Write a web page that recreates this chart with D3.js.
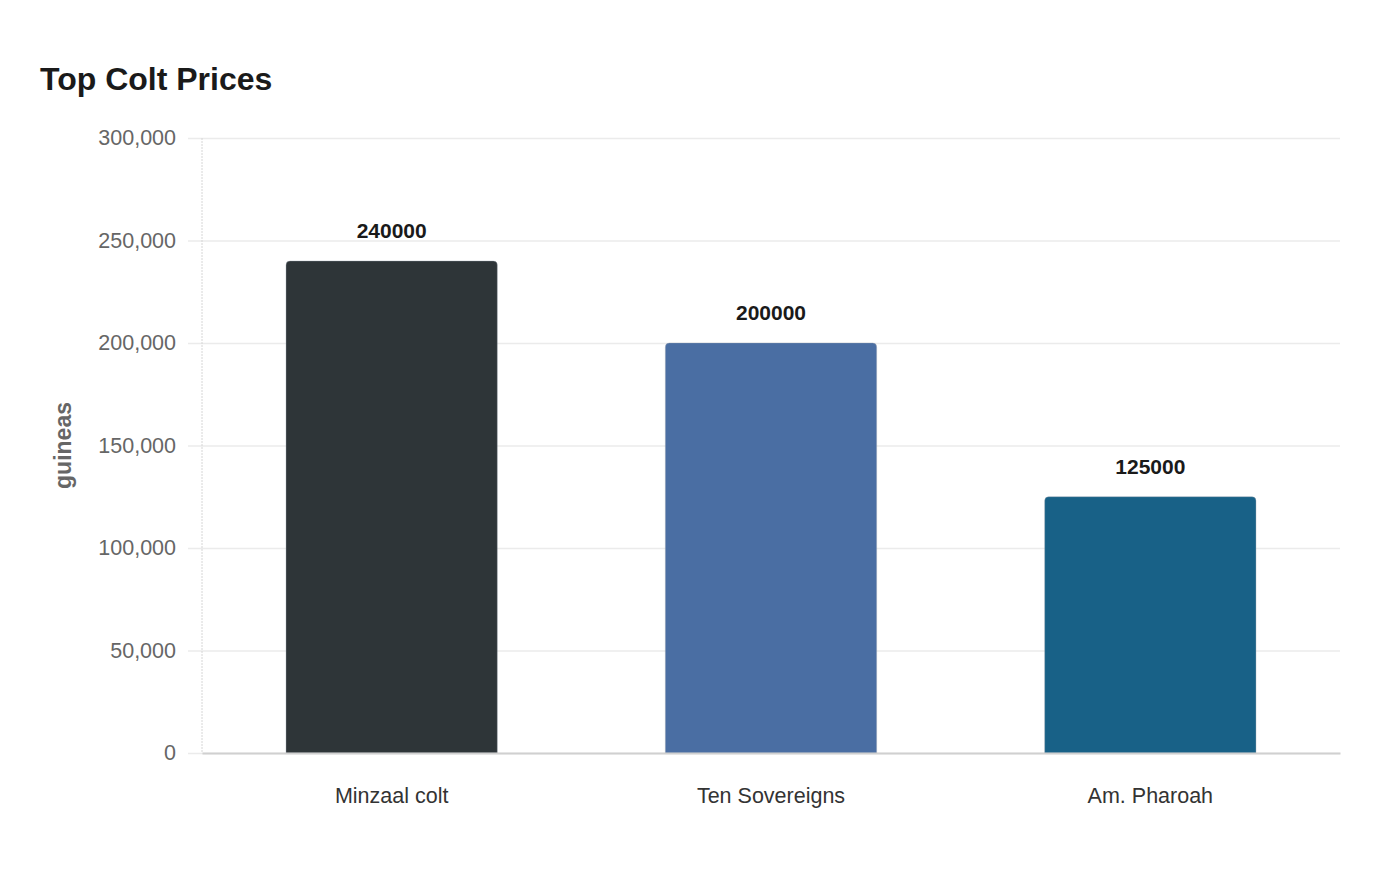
<!DOCTYPE html>
<html>
<head>
<meta charset="utf-8">
<script src="https://cdn.jsdelivr.net/npm/d3@7"></script>
<style>
  body { margin: 0; background: #fff; }
  svg { font-family: "Liberation Sans", Arial, sans-serif; }
</style>
</head>
<body>
<svg id="chart" width="1400" height="880"></svg>
<script>
/* chart data */
const horses = ['Minzaal colt', 'Ten Sovereigns', 'Am. Pharoah'];
const prices = [240000, 200000, 125000];
const barColors = ['#2e3538', '#4a6ea3', '#186187'];
const yTicks = [0, 50000, 100000, 150000, 200000, 250000, 300000];

const width = 1400, height = 880;
const margin = { left: 202, right: 60, top: 138, bottom: 127 };

const svg = d3.select('#chart');

/* scales */
const x = d3.scaleBand()
    .domain(horses)
    .range([margin.left, width - margin.right])
    .paddingInner(0.443)
    .paddingOuter(0.2215);
const y = d3.scaleLinear()
    .domain([0, 300000])
    .range([height - margin.bottom, margin.top]);

/* title */
svg.append('text')
    .attr('x', 40).attr('y', 90)
    .attr('font-size', 32).attr('font-weight', 'bold')
    .attr('fill', '#1a1a1a')
    .text('Top Colt Prices');

/* y grid + tick labels */
const yAxis = d3.axisLeft(y)
    .tickValues(yTicks)
    .tickSize(-(width - margin.right - margin.left + 14))
    .tickPadding(12)
    .tickFormat(d3.format(','));
const gy = svg.append('g')
    .attr('transform', `translate(${margin.left - 14},0)`)
    .call(yAxis);
gy.select('.domain').remove();
gy.selectAll('.tick line').attr('stroke', '#ebebeb').attr('stroke-width', 1.5);
gy.selectAll('.tick text').attr('font-size', 21.5).attr('fill', '#666')
    .attr('font-family', '"Liberation Sans", Arial, sans-serif');

/* dotted y axis line */
svg.append('line')
    .attr('x1', margin.left).attr('x2', margin.left)
    .attr('y1', y(300000)).attr('y2', y(0))
    .attr('stroke', '#d6d6d6').attr('stroke-dasharray', '2,1');

/* y axis title */
svg.append('text')
    .attr('transform', `translate(71,${(y(0) + y(300000)) / 2}) rotate(-90)`)
    .attr('text-anchor', 'middle')
    .attr('font-size', 23).attr('font-weight', 'bold').attr('fill', '#666')
    .text('guineas');

/* bars with rounded top corners */
const r = 4;
function barPath(d, i) {
    const x0 = x(horses[i]), w = x.bandwidth();
    const y0 = y(d), y1 = y(0);
    return `M${x0},${y1}V${y0 + r}Q${x0},${y0} ${x0 + r},${y0}` +
        `H${x0 + w - r}Q${x0 + w},${y0} ${x0 + w},${y0 + r}V${y1}Z`;
}
svg.append('g').selectAll('path')
    .data(prices)
    .join('path')
    .attr('d', barPath)
    .attr('fill', (d, i) => barColors[i])
    .attr('stroke', '#9aa3ad').attr('stroke-width', 0.6).attr('stroke-opacity', 0.6);

/* value labels */
svg.append('g').selectAll('text')
    .data(prices)
    .join('text')
    .attr('x', (d, i) => x(horses[i]) + x.bandwidth() / 2)
    .attr('y', d => y(d) - 23)
    .attr('text-anchor', 'middle')
    .attr('font-size', 21).attr('font-weight', 'bold').attr('fill', '#1a1a1a')
    .text(d => d);

/* x axis baseline + labels */
const xAxis = d3.axisBottom(x).tickSize(0).tickPadding(35);
const gx = svg.append('g')
    .attr('transform', `translate(0,${y(0)})`)
    .call(xAxis);
gx.select('.domain').attr('stroke', '#d0d0d0').attr('stroke-width', 2);
gx.selectAll('.tick text').attr('font-size', 21.5).attr('fill', '#333')
    .attr('font-family', '"Liberation Sans", Arial, sans-serif');
</script>
</body>
</html>
